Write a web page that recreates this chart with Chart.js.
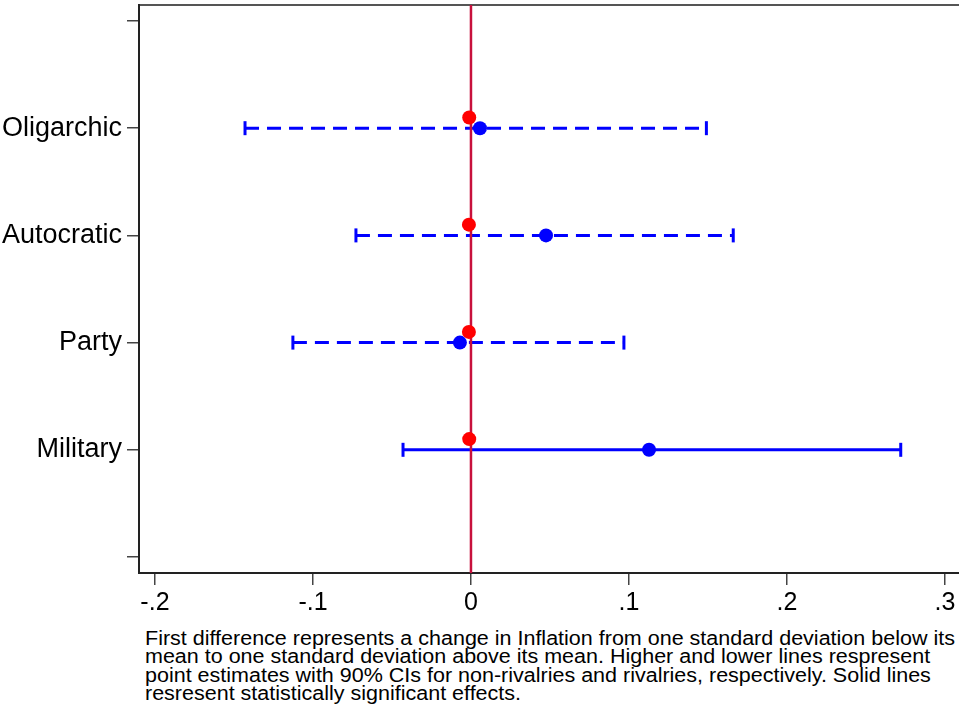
<!DOCTYPE html>
<html>
<head>
<meta charset="utf-8">
<script src="https://cdn.jsdelivr.net/npm/chart.js@4/dist/chart.umd.min.js"></script>
<style>
  html, body { margin: 0; padding: 0; background: #fff; overflow: hidden; width: 959px; height: 713px; }
  #wrap { position: relative; width: 959px; height: 713px; overflow: hidden; }
  #chart { position: absolute; left: 0; top: 0; }
  #note {
    position: absolute; left: 145px; top: 629px;
    font-family: "Liberation Sans", Arial, sans-serif;
    font-size: 20px; line-height: 18.3px; color: #000; white-space: nowrap;
    transform: scaleX(1.075); transform-origin: left top;
  }
</style>
</head>
<body>
<div id="wrap">
  <canvas id="chart" width="985" height="625"></canvas>
  <div id="note">First difference represents a change in Inflation from one standard deviation below its<br>mean to one standard deviation above its mean. Higher and lower lines respresent<br>point estimates with 90% CIs for non-rivalries and rivalries, respectively. Solid lines<br>resresent statistically significant effects.</div>
</div>
<script>
// categories, bottom to top (y positions 2..5)
var categories = ['Military', 'Party', 'Autocratic', 'Oligarchic'];
var catPos = [2, 3, 4, 5];

// rivalries (lower, blue)
var rivEst = [0.1127, -0.0070, 0.0475, 0.0057];
var rivLow = [-0.0430, -0.1127, -0.0728, -0.1430];
var rivHigh = [0.2720, 0.0968, 0.1660, 0.1490];
var rivSig = [true, false, false, false];

// non-rivalries (higher, red)
var nonEst = [-0.0011, -0.0013, -0.0013, -0.0011];

var xTicks = [-0.2, -0.1, 0, 0.1, 0.2, 0.3];
var xTickLabels = ['-.2', '-.1', '0', '.1', '.2', '.3'];
var yTicks = [1, 2, 3, 4, 5, 6];

var X_MIN = -0.2101, X_MAX = 0.3190;
var Y_MIN = 0.851, Y_MAX = 6.149;
var RED_OFFSET = 0.1;
var BLUE = '#0000ff', RED = '#ff0000', ZERO = '#c8103c';

document.addEventListener('DOMContentLoaded', function () {
    var datasets = [];

    // confidence intervals
    for (var i = 0; i < categories.length; i++) {
        datasets.push({
            data: [{ x: rivLow[i], y: catPos[i] }, { x: rivHigh[i], y: catPos[i] }],
            showLine: true,
            borderColor: BLUE,
            borderWidth: 3,
            borderDash: rivSig[i] ? [] : [14, 8],
            pointStyle: 'line',
            pointRotation: 90,
            pointRadius: 7,
            pointBorderWidth: 3,
            pointBorderColor: BLUE,
            order: 3
        });
    }

    // reference line at zero
    datasets.push({
        data: [{ x: 0, y: Y_MIN }, { x: 0, y: Y_MAX }],
        showLine: true,
        borderColor: ZERO,
        borderWidth: 2.5,
        pointRadius: 0,
        order: 2
    });

    // point estimates
    datasets.push({
        data: rivEst.map(function (v, i) { return { x: v, y: catPos[i] }; }),
        pointRadius: 7,
        pointBackgroundColor: BLUE,
        pointBorderWidth: 0,
        order: 1
    });
    datasets.push({
        data: nonEst.map(function (v, i) { return { x: v, y: catPos[i] + RED_OFFSET }; }),
        pointRadius: 7,
        pointBackgroundColor: RED,
        pointBorderWidth: 0,
        order: 0
    });

    var ctx = document.getElementById('chart').getContext('2d');
    new Chart(ctx, {
        type: 'scatter',
        data: { datasets: datasets },
        options: {
            responsive: false,
            animation: false,
            layout: { autoPadding: false, padding: { top: 5, right: 10, left: 0, bottom: 0 } },
            plugins: { legend: { display: false }, tooltip: { enabled: false } },
            scales: {
                x: {
                    type: 'linear',
                    position: 'bottom',
                    min: X_MIN,
                    max: X_MAX,
                    afterBuildTicks: function (s) { s.ticks = xTicks.map(function (v) { return { value: v }; }); },
                    afterFit: function (s) { s.height = 52; },
                    ticks: {
                        font: { family: 'Liberation Sans', size: 25 },
                        color: '#000',
                        padding: 3,
                        maxRotation: 0,
                        callback: function (v) { return xTickLabels[xTicks.indexOf(v)]; }
                    },
                    grid: { drawOnChartArea: false, drawTicks: true, tickLength: 12, color: '#444', lineWidth: 1.5 },
                    border: { display: true, color: '#222', width: 2 }
                },
                xTop: {
                    type: 'linear',
                    position: 'top',
                    min: X_MIN,
                    max: X_MAX,
                    afterFit: function (s) { s.height = 0; s.paddingLeft = 0; s.paddingRight = 0; },
                    ticks: { display: false },
                    grid: { drawOnChartArea: false, drawTicks: false },
                    border: { display: true, color: '#555', width: 2 }
                },
                y: {
                    type: 'linear',
                    min: Y_MIN,
                    max: Y_MAX,
                    afterBuildTicks: function (s) { s.ticks = yTicks.map(function (v) { return { value: v }; }); },
                    afterFit: function (s) { s.width = 139; s.paddingTop = 0; s.paddingBottom = 0; },
                    ticks: {
                        font: { family: 'Liberation Sans', size: 27 },
                        color: '#000',
                        padding: 5,
                        callback: function (v) {
                            var k = catPos.indexOf(v);
                            return k >= 0 ? categories[k] : '';
                        }
                    },
                    grid: { drawOnChartArea: false, drawTicks: true, tickLength: 12, color: '#444', lineWidth: 1.5 },
                    border: { display: true, color: '#222', width: 2 }
                }
            }
        }
    });
});
</script>
</body>
</html>
